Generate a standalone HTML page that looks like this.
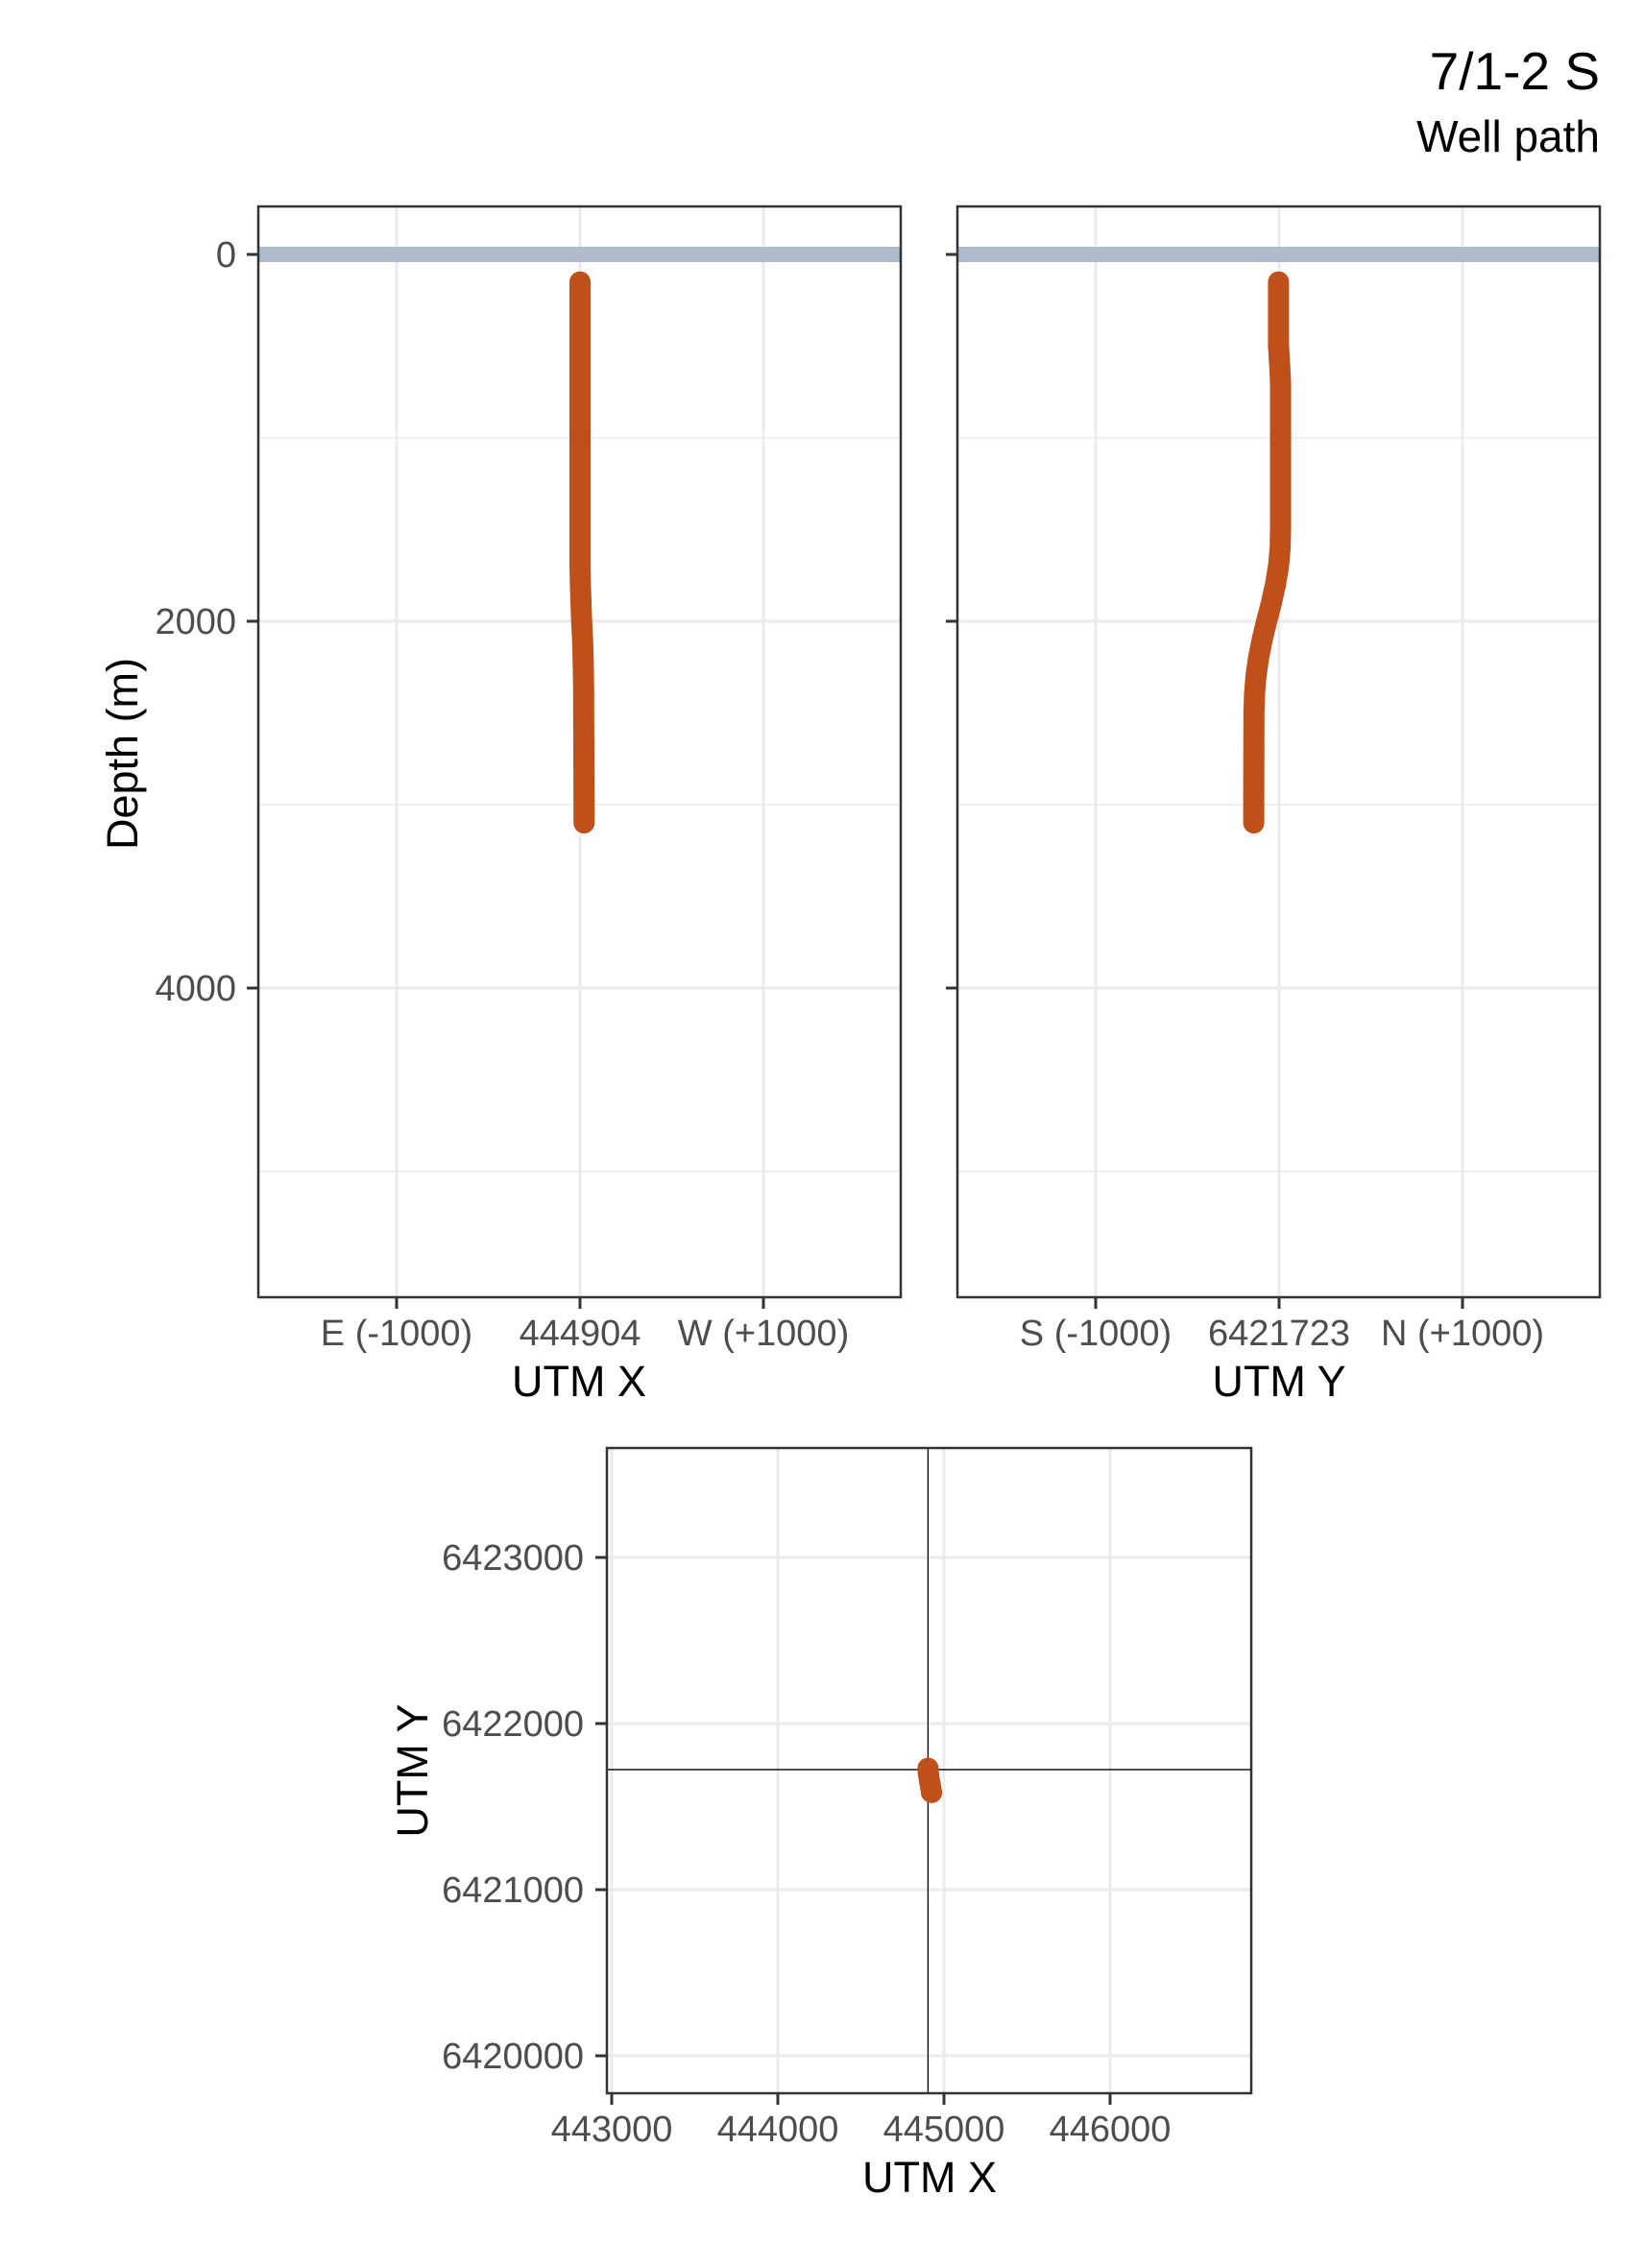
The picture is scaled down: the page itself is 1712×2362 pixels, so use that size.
<!DOCTYPE html>
<html><head><meta charset="utf-8"><style>
html,body{margin:0;padding:0;background:#fff}
svg{display:block;font-family:"Liberation Sans",Arial,sans-serif}
</style></head><body>
<svg id="chart" width="1712" height="2362" viewBox="0 0 1712 2362">
<text x="1666" y="93" font-size="55" text-anchor="end" fill="#000">7/1-2 S</text>
<text x="1666" y="158" font-size="46" text-anchor="end" fill="#000">Well path</text>
<g id="p1"></g>
<g id="p2"></g>
<g id="p3"></g>
<text transform="translate(143,785) rotate(-90)" font-size="45" text-anchor="middle">Depth (m)</text>
<text x="603" y="1454" font-size="45" text-anchor="middle">UTM X</text>
<text x="1332" y="1454" font-size="45" text-anchor="middle">UTM Y</text>
<text x="968" y="2283" font-size="45" text-anchor="middle">UTM X</text>
<text transform="translate(445,1844) rotate(-90)" font-size="45" text-anchor="middle">UTM Y</text>
</svg>
<script>
const depths = [150, 500, 600, 700, 1000, 1500, 1600, 1700, 1800, 1900, 2000, 2100, 2200, 2300, 2400, 2500, 3000, 3100];
const dxs    = [0, 0, 0, 0, 0, 0, 0, 0, 2, 5, 9, 14, 17, 19, 20, 20, 22, 22];
const dys    = [-3, -3, 3, 8, 8, 8, 6, -3, -20, -42, -68, -92, -112, -126, -134, -137, -138, -138];
const centerX = 444904;
const centerY = 6421723;
const depthTicks = [0, 2000, 4000];
const depthMinor = [1000, 3000, 5000];
const offTicks = [-1000, 0, 1000];
const xTickLabels = ["E (-1000)", "444904", "W (+1000)"];
const yTickLabels = ["S (-1000)", "6421723", "N (+1000)"];
const mapXTicks = [443000, 444000, 445000, 446000];
const mapYTicks = [6420000, 6421000, 6422000, 6423000];

const NS = "http://www.w3.org/2000/svg";
function mk(parent, tag, attrs, text){
  const e = document.createElementNS(NS, tag);
  for (const k in attrs) e.setAttribute(k, attrs[k]);
  if (text !== undefined) e.textContent = text;
  parent.appendChild(e);
  return e;
}
const yDepth = d => 265 + d * 0.191;
const GRID = "#ebebeb", TICKC = "#4d4d4d";

function depthPanel(gid, left, right, center, labels, offs, kind){
  const g = document.getElementById(gid);
  const xs = o => center + o * 0.191;
  const top = 215, bottom = 1351;
  mk(g, "rect", {x:left, y:top, width:right-left, height:bottom-top, fill:"#fff"});
  depthMinor.forEach(d => {
    const l = mk(g, "line", {x1:left, x2:right, y1:yDepth(d), y2:yDepth(d), stroke:GRID, "stroke-width":1.5});
    
    
  });
  depthTicks.forEach(d => {
    const l = mk(g, "line", {x1:left, x2:right, y1:yDepth(d), y2:yDepth(d), stroke:GRID, "stroke-width":3});
    
    
  });
  offTicks.forEach(o => {
    const l = mk(g, "line", {x1:xs(o), x2:xs(o), y1:top, y2:bottom, stroke:GRID, "stroke-width":3});
    
    
  });
  const sl = mk(g, "line", {x1:left, x2:right, y1:yDepth(0), y2:yDepth(0), stroke:"#b0bccd", "stroke-width":16});
  
  
  const offs2 = kind === "x" ? dxs : dys;
  const pts = depths.map((d,i) => xs(offs2[i]).toFixed(1) + "," + yDepth(d).toFixed(1)).join(" ");
  const p = mk(g, "polyline", {points:pts, fill:"none", stroke:"#bf501a", "stroke-width":22, "stroke-linecap":"round", "stroke-linejoin":"round"});
  
  
  mk(g, "rect", {x:left, y:top, width:right-left, height:bottom-top, fill:"none", stroke:"#333", "stroke-width":2.5});
  depthTicks.forEach(d => {
    mk(g, "line", {x1:left-12, x2:left, y1:yDepth(d), y2:yDepth(d), stroke:"#333", "stroke-width":3});
    if (gid === "p1") {
      const t = mk(g, "text", {x:left-23, y:yDepth(d)+13, "font-size":38, "text-anchor":"end", fill:TICKC}, String(d));
      
      
    }
  });
  offTicks.forEach((o,i) => {
    mk(g, "line", {x1:xs(o), x2:xs(o), y1:bottom, y2:bottom+12, stroke:"#333", "stroke-width":3});
    const t = mk(g, "text", {x:xs(o), y:1401, "font-size":38, "text-anchor":"middle", fill:TICKC}, labels[i]);
    
    
  });
}
depthPanel("p1", 269, 938, 604, xTickLabels, offTicks, "x");
depthPanel("p2", 997, 1666, 1332, yTickLabels, offTicks, "y");

(function(){
  const g = document.getElementById("p3");
  const L = 632, R = 1303, T = 1508, B = 2180;
  const mx = v => 637 + (v - 443000) * 0.173;
  const my = v => 1968 - (v - 6421000) * 0.173;
  mk(g, "rect", {x:L, y:T, width:R-L, height:B-T, fill:"#fff"});
  mapXTicks.forEach(v => {
    const l = mk(g, "line", {x1:mx(v), x2:mx(v), y1:T, y2:B, stroke:GRID, "stroke-width":3});
    
    
  });
  mapYTicks.forEach(v => {
    const l = mk(g, "line", {x1:L, x2:R, y1:my(v), y2:my(v), stroke:GRID, "stroke-width":3});
    
    
  });
  const ch1 = mk(g, "line", {x1:mx(centerX), x2:mx(centerX), y1:T, y2:B, stroke:"#000", "stroke-width":1.3});
  
  
  const ch2 = mk(g, "line", {x1:L, x2:R, y1:my(centerY), y2:my(centerY), stroke:"#000", "stroke-width":1.3});
  
  
  const pts = depths.map((d,i) => mx(centerX+dxs[i]).toFixed(1) + "," + my(centerY+dys[i]).toFixed(1)).join(" ");
  const p = mk(g, "polyline", {points:pts, fill:"none", stroke:"#bf501a", "stroke-width":22, "stroke-linecap":"round", "stroke-linejoin":"round"});
  
  
  mk(g, "rect", {x:L, y:T, width:R-L, height:B-T, fill:"none", stroke:"#333", "stroke-width":2.5});
  mapXTicks.forEach(v => {
    mk(g, "line", {x1:mx(v), x2:mx(v), y1:B, y2:B+12, stroke:"#333", "stroke-width":3});
    const t = mk(g, "text", {x:mx(v), y:2230, "font-size":38, "text-anchor":"middle", fill:TICKC}, String(v));
    
    
  });
  mapYTicks.forEach(v => {
    mk(g, "line", {x1:L-12, x2:L, y1:my(v), y2:my(v), stroke:"#333", "stroke-width":3});
    const t = mk(g, "text", {x:L-24, y:my(v)+13, "font-size":38, "text-anchor":"end", fill:TICKC}, String(v));
    
    
  });
})();
</script>
</body></html>
